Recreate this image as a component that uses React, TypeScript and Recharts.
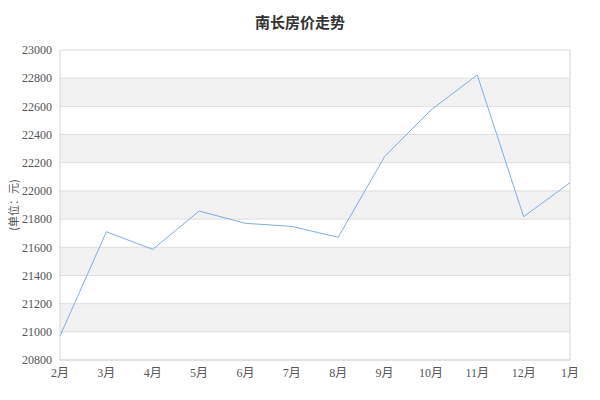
import { CartesianGrid, Line, LineChart, ReferenceLine, XAxis, YAxis } from "recharts";

const months = ["2月", "3月", "4月", "5月", "6月", "7月", "8月", "9月", "10月", "11月", "12月", "1月"];
const prices = [20970, 21710, 21585, 21857, 21770, 21748, 21671, 22243, 22574, 22823, 21817, 22058];
const yTicks = [20800, 21000, 21200, 21400, 21600, 21800, 22000, 22200, 22400, 22600, 22800, 23000];

const data = months.map((month, i) => ({ month, price: prices[i] }));

const TICK_FONT = "'Liberation Serif', 'Noto Sans CJK SC', serif";
const tick = { fill: "#555", fontSize: 12, fontFamily: TICK_FONT };

export default function App() {
  return (
    <div style={{ position: "relative", width: 600, height: 400, background: "#fff" }}>
      <style>{"body{margin:0}"}</style>
      <div
        style={{
          position: "absolute",
          top: 11,
          left: 0,
          width: 600,
          textAlign: "center",
          fontFamily: "'Noto Sans CJK SC', sans-serif",
          fontWeight: "bold",
          fontSize: 15,
          color: "#333",
          lineHeight: "22px",
        }}
      >
        南长房价走势
      </div>
      <LineChart width={600} height={400} data={data} margin={{ top: 50, right: 30, bottom: 0, left: 0 }}>
        <CartesianGrid vertical={false} stroke="#dedede" horizontalFill={["#ffffff", "#f2f2f2"]} fillOpacity={1} />
        <XAxis
          dataKey="month"
          height={40}
          tick={tick}
          axisLine={{ stroke: "#d6d6d6" }}
          tickLine={false}
          interval={0}
        />
        <YAxis
          width={60}
          domain={[20800, 23000]}
          ticks={yTicks}
          tick={tick}
          axisLine={{ stroke: "#d6d6d6" }}
          tickLine={false}
          interval={0}
          label={{
            value: "(单位：元)",
            angle: -90,
            position: "insideLeft",
            offset: 14,
            style: { fill: "#555", fontSize: 11, fontFamily: "'Noto Sans CJK SC', sans-serif", textAnchor: "middle" },
          }}
        />
        <ReferenceLine x="1月" stroke="#d6d6d6" />
        <Line
          type="linear"
          dataKey="price"
          stroke="#7eaee6"
          strokeWidth={1}
          dot={false}
          activeDot={false}
          isAnimationActive={false}
        />
      </LineChart>
    </div>
  );
}
